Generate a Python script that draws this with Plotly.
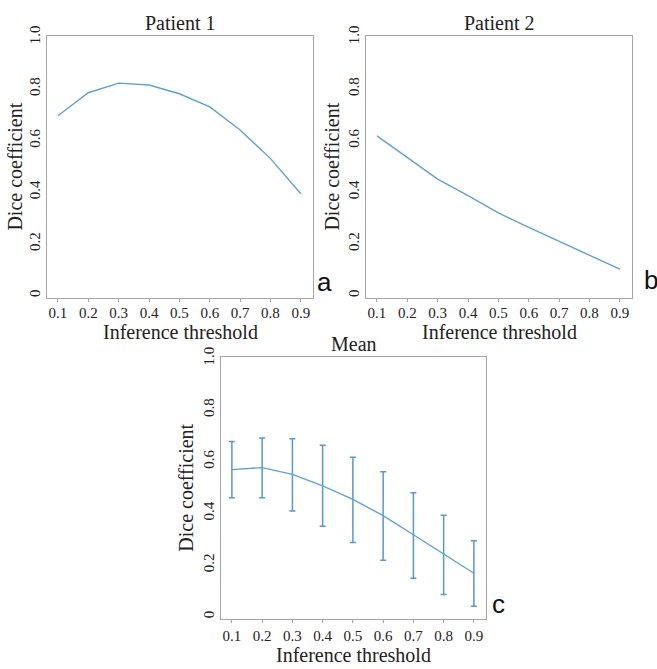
import plotly.graph_objects as go

thresholds = [0.1, 0.2, 0.3, 0.4, 0.5, 0.6, 0.7, 0.8, 0.9]
patient1 = [0.696, 0.785, 0.822, 0.815, 0.781, 0.730, 0.641, 0.530, 0.394]
patient2 = [0.618, 0.533, 0.451, 0.387, 0.320, 0.264, 0.210, 0.155, 0.102]
mean_vals = [0.569, 0.577, 0.551, 0.506, 0.454, 0.391, 0.317, 0.243, 0.168]
err_plus = [0.109, 0.115, 0.138, 0.157, 0.163, 0.170, 0.163, 0.150, 0.126]
err_minus = [0.109, 0.117, 0.142, 0.156, 0.167, 0.173, 0.168, 0.157, 0.128]

y_ticks = [0, 0.2, 0.4, 0.6, 0.8, 1.0]
y_ticktext = ["0", "0.2", "0.4", "0.6", "0.8", "1.0"]
x_ticktext = [f"{v:.1f}" for v in thresholds]

titles = ["Patient 1", "Patient 2", "Mean"]
panel_letters = ["a", "b", "c"]

LINE = "#5fa0d8"
ERR = "#5598d4"
AX = "#a6a6a6"
SERIF = "Liberation Serif"
TXT = "#222"

W, H = 657, 669

def px_x(v):
    return v / W

def px_y(v):
    return 1 - v / H

# panel boxes in pixels: (left, right, top, bottom)
boxes = [(47, 313, 26, 292), (366, 632, 26, 292), (221, 486, 352, 618)]
xtitle_gap = [35, 35, 37]
ytitle_gap = [32, 34, 35]
xlabel_standoff = [-2, -2, 0]

fig = go.Figure()

fig.add_trace(go.Scatter(x=thresholds, y=patient1, mode="lines",
                         line=dict(color=LINE, width=1.4), xaxis="x", yaxis="y",
                         showlegend=False))
fig.add_trace(go.Scatter(x=thresholds, y=patient2, mode="lines",
                         line=dict(color=LINE, width=1.4), xaxis="x2", yaxis="y2",
                         showlegend=False))
fig.add_trace(go.Scatter(x=thresholds, y=mean_vals, mode="lines",
                         line=dict(color=LINE, width=1.4), xaxis="x3", yaxis="y3",
                         error_y=dict(type="data", symmetric=False, array=err_plus,
                                      arrayminus=err_minus, color=ERR,
                                      thickness=1.5, width=3),
                         showlegend=False))

layout = dict(width=W, height=H, margin=dict(l=0, r=0, t=0, b=0),
              plot_bgcolor="white", paper_bgcolor="white",
              font=dict(family=SERIF, color=TXT))

annotations = []
for i, (l, r, t, b) in enumerate(boxes):
    sfx = "" if i == 0 else str(i + 1)
    xa = dict(domain=[px_x(l), px_x(r)], range=[0.064, 0.94],
              tickvals=thresholds, ticktext=x_ticktext,
              showgrid=False, zeroline=False, showline=True, linecolor=AX,
              linewidth=1, mirror=True, ticks="outside", ticklen=3,
              tickcolor=AX, tickfont=dict(family=SERIF, size=15, color=TXT),
              ticklabelstandoff=xlabel_standoff[i],
              anchor="y" + sfx)
    ya = dict(domain=[px_y(b), px_y(t)], range=[-0.008, 1.006],
              tickvals=y_ticks, ticktext=y_ticktext, tickangle=-90,
              showgrid=False, zeroline=False, showline=True, linecolor=AX,
              linewidth=1, mirror=True, ticks="",
              tickfont=dict(family=SERIF, size=15, color=TXT),
              ticklabelstandoff=0,
              anchor="x" + sfx)
    layout["xaxis" + sfx] = xa
    layout["yaxis" + sfx] = ya
    cx = (l + r) / 2
    annotations.append(dict(text=titles[i], x=px_x(cx), y=px_y(t - 13),
                            xref="paper", yref="paper", showarrow=False,
                            font=dict(family=SERIF, size=20, color=TXT),
                            xanchor="center", yanchor="middle"))
    annotations.append(dict(text="Inference threshold", x=px_x(cx), y=px_y(b + xtitle_gap[i]),
                            xref="paper", yref="paper", showarrow=False,
                            font=dict(family=SERIF, size=20, color=TXT),
                            xanchor="center", yanchor="middle"))
    annotations.append(dict(text="Dice coefficient", x=px_x(l - ytitle_gap[i]),
                            y=px_y((t + b) / 2),
                            xref="paper", yref="paper", showarrow=False, textangle=-90,
                            font=dict(family=SERIF, size=20, color=TXT),
                            xanchor="center", yanchor="middle"))

letter_pos = [(324, 276), (651, 274), (498, 603)]
for s, (lx, ly) in zip(panel_letters, letter_pos):
    annotations.append(dict(text=s, x=px_x(lx), y=px_y(ly), xref="paper", yref="paper",
                            showarrow=False, xanchor="center", yanchor="middle",
                            font=dict(family="Liberation Sans", size=26, color="#111")))

layout["annotations"] = annotations
fig.update_layout(**layout)
fig.write_html("out.html", config={"displayModeBar": False},
               post_script="document.body.style.margin='0';document.body.style.padding='0';")
